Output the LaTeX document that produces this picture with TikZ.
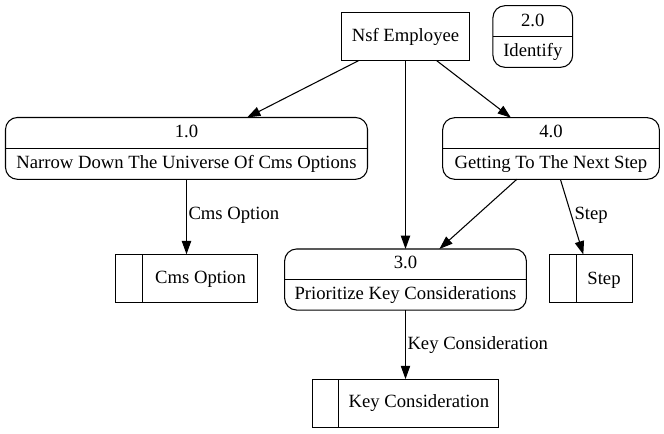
\documentclass[tikz,border=0pt]{standalone}
\usepackage{fontspec}
\setmainfont{Liberation Serif}
\newfontfamily\tmsfont{Liberation Serif}
\usetikzlibrary{arrows.meta}
\begin{document}
\begin{tikzpicture}[x=0.75pt,y=-0.75pt,
  every node/.style={font=\tmsfont\fontsize{14pt}{16pt}\selectfont, outer sep=0pt},
  proc/.style={draw, line width=0.8pt, rounded corners=9pt, inner sep=0pt},
  ent/.style={draw, line width=0.8pt, inner sep=0pt, minimum height=36pt},
  store/.style={draw, line width=0.8pt, inner sep=0pt, minimum height=36.3pt},
  txt/.style={anchor=base, inner sep=0pt},
  flow/.style={line width=0.8pt, -{Triangle[length=10pt,width=7pt]}},
  lbl/.style={anchor=base west, inner sep=1.5pt},
  divider/.style={line width=0.8pt}
]
\useasboundingbox (0,0) rectangle (664,433);

% external entity
\node[ent, minimum width=96.2pt] (nsf) at (405.5,36.7) {Nsf Employee};

% processes
\node[proc, minimum width=271.5pt, minimum height=46.4pt] (p1) at (186.5,148.4) {};
\draw[divider] (p1.west) -- (p1.east);
\node[txt] (p1a) at (186.5,137.7) {1.0};
\node[txt] (p1b) at (186.5,168.3) {Narrow Down The Universe Of Cms Options};

\node[proc, minimum width=59.8pt, minimum height=46.2pt] (p2) at (532.8,36.5) {};
\draw[divider] (p2.west) -- (p2.east);
\node[txt] (p2a) at (532.8,26) {2.0};
\node[txt] (p2b) at (532.8,56.7) {Identify};

\node[proc, minimum width=181.3pt, minimum height=45.8pt] (p3) at (405.5,279.5) {};
\draw[divider] (p3.west) -- (p3.east);
\node[txt] (p3a) at (405.5,268.8) {3.0};
\node[txt] (p3b) at (405.5,299.4) {Prioritize Key Considerations};

\node[proc, minimum width=162.5pt, minimum height=46.2pt] (p4) at (551,148.5) {};
\draw[divider] (p4.west) -- (p4.east);
\node[txt] (p4a) at (551,137.8) {4.0};
\node[txt] (p4b) at (551,168.4) {Getting To The Next Step};

% data stores
\node[store, minimum width=106.5pt] (s1) at (186.5,278.5) {};
\draw[divider] ([xshift=20pt]s1.north west) -- ([xshift=20pt]s1.south west);
\node[txt] (s1t) at (200.5,283.3) {Cms Option};

\node[store, minimum width=62pt] (s2) at (590.7,278.7) {};
\draw[divider] ([xshift=20pt]s2.north west) -- ([xshift=20pt]s2.south west);
\node[txt] (s2t) at (604,284) {Step};

\node[store, minimum width=140pt] (s3) at (405.5,403.3) {};
\draw[divider] ([xshift=20pt]s3.north west) -- ([xshift=20pt]s3.south west);
\node[txt] (s3t) at (418.9,407.3) {Key Consideration};

% flows
\draw[flow] (nsf) -- (p1);
\draw[flow] (nsf) -- (p3);
\draw[flow] (nsf) -- (p4);
\draw[flow] (p1) -- (s1) node[lbl, pos=0.53] (l1) {Cms Option};
\draw[flow] (p4) -- (p3);
\draw[flow] (p4) -- (s2) node[lbl, pos=0.53] (l2) {Step};
\draw[flow] (p3) -- (s3) node[lbl, pos=0.57] (l3) {Key Consideration};
\end{tikzpicture}
\end{document}
